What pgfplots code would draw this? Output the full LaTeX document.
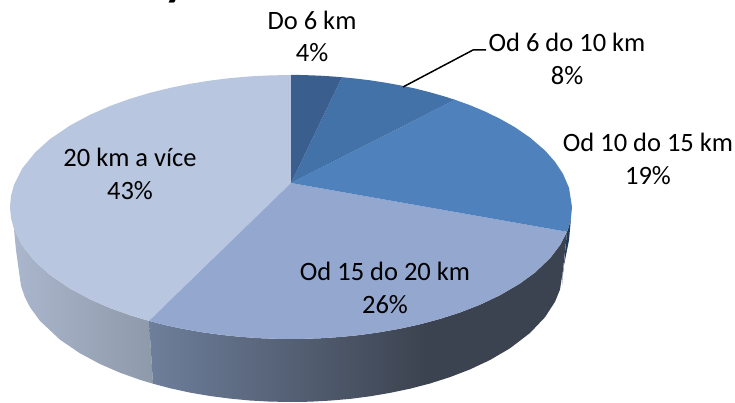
\documentclass[border=0pt]{standalone}
\usepackage{pgfplots}
\pgfplotsset{compat=1.18}
\usepackage{fontspec}
\setmainfont{Carlito}
\definecolor{sA}{HTML}{3A5F8F}
\definecolor{sB}{HTML}{4272A8}
\definecolor{sC}{HTML}{4F81BD}
\definecolor{sD}{HTML}{93A7CF}
\definecolor{sE}{HTML}{B9C6DF}
\definecolor{sideDL}{HTML}{6E7F9B}
\definecolor{sideDR}{HTML}{3C4350}
\definecolor{sideEL}{HTML}{AAB6CC}
\definecolor{sideER}{HTML}{8E99AA}
\definecolor{sideC}{HTML}{20385C}
\pgfdeclarehorizontalshading{sideDshade}{100bp}{color(0bp)=(sideDL); color(25bp)=(sideDL); color(58bp)=(sideDR); color(100bp)=(sideDR)}
\pgfdeclarehorizontalshading{sideEshade}{100bp}{color(0bp)=(sideEL); color(25bp)=(sideEL); color(75bp)=(sideER); color(100bp)=(sideER)}
\newcommand{\lab}{\fontsize{26.5pt}{30pt}\selectfont}
\begin{document}
\begin{tikzpicture}
\useasboundingbox (0,0) rectangle (735pt,403pt);
\clip (0,0) rectangle (735pt,403pt);
\begin{axis}[at={(0,0)},anchor=south west,scale only axis,width=735pt,height=403pt,
  xmin=0,xmax=735,ymin=0,ymax=403,y dir=reverse,hide axis,clip=false,
  every axis plot/.append style={no markers,draw=none,line width=0pt}]
% right sliver
\addplot[fill=sideC] coordinates {(571,218.1)(569,226.2)(567,231.8)(562,285)(563,270)(569,240)};
% side of slice 5
\addplot[shade,shading=sideEshade] coordinates {(149,320.9)(130,315.2)(110,308)(90,299.2)(70,288.5)(50,274.9)(35,261.4)(22,245.2)(14,229.2)(16,250)(21,286)(25,297.5)(30,307.2)(40,320.9)(60,339.7)(80,353.3)(100,364)(120,372.7)(140,379.8)(153,383.7)};
% side of slice 4
\addplot[shade,shading=sideDshade] coordinates {(149,320.9)(165,325)(180,328.3)(200,331.9)(220,334.7)(240,336.8)(260,338.2)(280,338.9)(291,339)(300,338.9)(320,338.3)(340,337)(360,335)(380,332.2)(400,328.7)(420,324.3)(440,318.9)(460,312.5)(480,304.7)(500,295.2)(520,283.5)(535,272.5)(550,258.2)(560,245.2)(567,231.8)(563,270)(560,289.5)(555,301.8)(545,317.2)(530,333)(510,348.3)(490,360)(470,369.4)(450,377.1)(430,383.5)(410,388.7)(390,392.9)(370,396.3)(350,398.9)(330,400.6)(310,401.7)(291,402)(270,401.6)(250,400.5)(230,398.6)(210,396)(190,392.6)(170,388.2)(153,383.7)};
% top: slice 5
\addplot[fill=sE] coordinates {(291,183)(149,320.9)(130,315.2)(110,308)(90,299.2)(70,288.5)(50,274.9)(35,261.4)(22,245.2)(14,229.2)(11,218.1)(10,207)(11,195.9)(14,184.8)(22,168.8)(35,152.6)(50,139.1)(70,125.5)(90,114.8)(110,106)(130,98.8)(150,92.8)(170,87.9)(190,83.8)(210,80.6)(230,78.1)(250,76.4)(270,75.4)(291,75)};
% top: slice 4
\addplot[fill=sD] coordinates {(291,183)(567,231.8)(560,245.2)(550,258.2)(535,272.5)(520,283.5)(500,295.2)(480,304.7)(460,312.5)(440,318.9)(420,324.3)(400,328.7)(380,332.2)(360,335)(340,337)(320,338.3)(300,338.9)(291,339)(280,338.9)(260,338.2)(240,336.8)(220,334.7)(200,331.9)(180,328.3)(165,325)(149,320.9)};
% top: slice 3
\addplot[fill=sC] coordinates {(291,183)(455,99.8)(470,105.2)(485,111.5)(500,118.8)(515,127.3)(530,137.6)(545,150.5)(555,161.8)(563,173.9)(569,187.8)(572,207)(571,218.1)(569,226.2)(567,231.8)};
% top: slice 2
\addplot[fill=sB] coordinates {(291,183)(342,77.2)(355,78.5)(370,80.3)(385,82.6)(400,85.3)(415,88.5)(430,92.3)(445,96.6)(455,99.8)};
% top: slice 1
\addplot[fill=sA] coordinates {(291,183)(291,75)(300,75)(310,75.3)(320,75.7)(330,76.3)(342,77.2)};
% leader
\addplot[draw=black,line width=1.5pt] coordinates {(403,87)(473,50)(486,50)};
\node[font=\lab] at (axis cs:312,20) {Do 6 km};
\node[font=\lab] at (axis cs:312,53) {4\%};
\node[font=\lab] at (axis cs:567,42) {Od 6 do 10 km};
\node[font=\lab] at (axis cs:567,76) {8\%};
\node[font=\lab] at (axis cs:648,142) {Od 10 do 15 km};
\node[font=\lab] at (axis cs:648,176) {19\%};
\node[font=\lab] at (axis cs:385,271) {Od 15 do 20 km};
\node[font=\lab] at (axis cs:385,305) {26\%};
\node[font=\lab] at (axis cs:130,157) {20 km a více};
\node[font=\lab] at (axis cs:130,191) {43\%};
\node[font=\bfseries\fontsize{48pt}{50pt}\selectfont,anchor=base] at (axis cs:176,-4) {y};
\end{axis}
\end{tikzpicture}
\end{document}
